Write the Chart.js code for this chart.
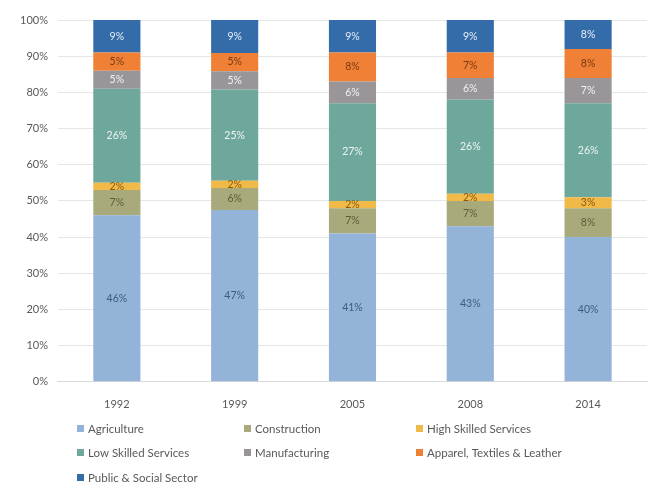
<!DOCTYPE html>
<html>
<head>
<meta charset="utf-8">
<script src="https://cdn.jsdelivr.net/npm/chart.js@4/dist/chart.umd.min.js"></script>
<style>
  html, body { margin: 0; padding: 0; background: #fff; }
  #wrap { width: 649px; height: 484px; position: relative; }
</style>
</head>
<body>
<div id="wrap"><canvas id="chart"></canvas></div>
<script>
// Employment shares by sector (%)
const years = ['1992', '1999', '2005', '2008', '2014'];
const sectors = ['Agriculture', 'Construction', 'High Skilled Services', 'Low Skilled Services',
  'Manufacturing', 'Apparel, Textiles & Leather', 'Public & Social Sector'];
const agriculture   = [46, 47, 41, 43, 40];
const construction  = [7, 6, 7, 7, 8];
const highSkilled   = [2, 2, 2, 2, 3];
const lowSkilled    = [26, 25, 27, 26, 26];
const manufacturing = [5, 5, 6, 6, 7];
const apparel       = [5, 5, 8, 7, 8];
const publicSector  = [9, 9, 9, 9, 8];
const yTicks = [0, 10, 20, 30, 40, 50, 60, 70, 80, 90, 100];

const series = [agriculture, construction, highSkilled, lowSkilled, manufacturing, apparel, publicSector];
const fills = ['#93b3d8', '#a9aa7b', '#f1b947', '#6ea89c', '#999598', '#ef8036', '#336ca8'];
const labelColors = ['#3d5c82', '#5e5e36', '#8a5a12', '#eef4f2', '#f4f0f4', '#7a3a12', '#e8eef6'];

// 100% stacked: each column is scaled to its own total
const totals = years.map((_, i) => series.reduce((s, arr) => s + arr[i], 0));

const datasets = sectors.map((name, k) => ({
  label: name,
  raw: series[k],
  data: series[k].map((v, i) => v / totals[i] * 100),
  backgroundColor: fills[k],
  borderWidth: 0,
  barPercentage: 0.4,
  categoryPercentage: 1.0
}));

const FONT = 'Lato, "Open Sans", sans-serif';

const valueLabels = {
  id: 'valueLabels',
  afterDatasetsDraw(chart) {
    const ctx = chart.ctx;
    ctx.save();
    ctx.font = '10.5px ' + FONT;
    ctx.textAlign = 'center';
    ctx.textBaseline = 'middle';
    chart.data.datasets.forEach((ds, k) => {
      chart.getDatasetMeta(k).data.forEach((bar, i) => {
        const mid = (bar.y + bar.base) / 2;
        ctx.fillStyle = labelColors[k];
        ctx.fillText(ds.raw[i] + '%', bar.x, mid);
      });
    });
    ctx.restore();
  }
};

// three-column legend under the axis
const gridLegend = {
  id: 'gridLegend',
  afterDraw(chart) {
    const ctx = chart.ctx;
    const colX = [77, 244, 416];
    const rowY = [429, 453, 478];
    ctx.save();
    ctx.font = '11.5px ' + FONT;
    ctx.textBaseline = 'middle';
    ctx.textAlign = 'left';
    chart.data.datasets.forEach((ds, k) => {
      const x = colX[k % 3], y = rowY[Math.floor(k / 3)];
      ctx.fillStyle = ds.backgroundColor;
      ctx.fillRect(x, y - 4, 7, 7);
      ctx.fillStyle = '#595959';
      ctx.fillText(ds.label, x + 11, y);
    });
    ctx.restore();
  }
};

new Chart(document.getElementById('chart'), {
  type: 'bar',
  data: { labels: years, datasets },
  options: {
    responsive: true,
    maintainAspectRatio: false,
    animation: false,
    layout: { padding: { top: 20, right: 2, bottom: 65, left: 10 } },
    plugins: {
      legend: { display: false },
      tooltip: { enabled: false }
    },
    scales: {
      x: {
        stacked: true,
        grid: { display: false },
        border: { color: '#d9d9d9' },
        ticks: { color: '#595959', font: { family: FONT, size: 11 }, padding: 8 }
      },
      y: {
        stacked: true,
        min: 0,
        max: 100,
        afterBuildTicks(axis) { axis.ticks = yTicks.map(v => ({ value: v })); },
        grid: { color: '#e6e6e6', drawTicks: false },
        border: { display: false },
        ticks: {
          color: '#595959',
          font: { family: FONT, size: 11 },
          padding: 10,
          callback: v => v + '%'
        }
      }
    }
  },
  plugins: [valueLabels, gridLegend]
});
</script>
</body>
</html>
